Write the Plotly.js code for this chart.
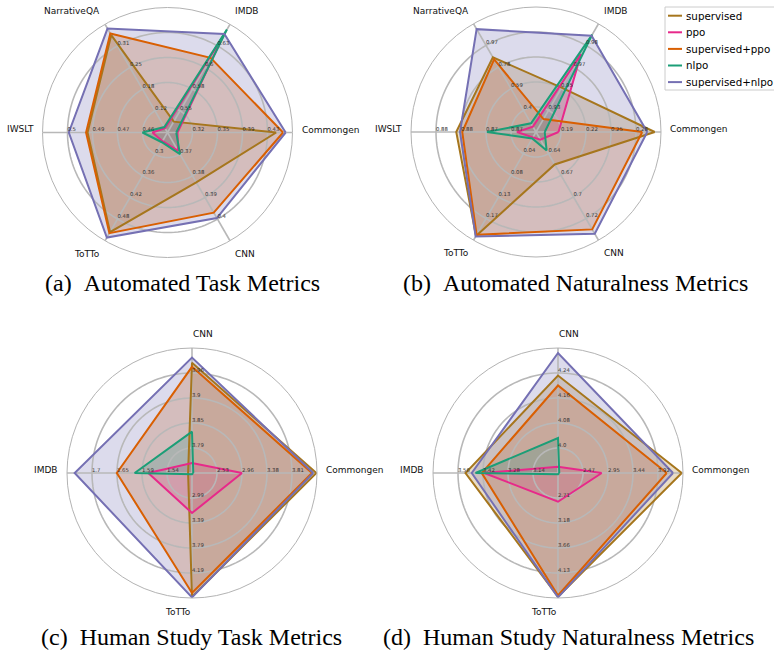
<!DOCTYPE html>
<html><head><meta charset="utf-8">
<script src="https://cdn.plot.ly/plotly-3.0.1.min.js"></script>
<style>html,body{margin:0;padding:0;background:#fff}#chart{width:774px;height:655px}</style>
</head><body><div id="chart"></div>
<script>
// ---------- data ----------
const seriesNames = ['supervised', 'ppo', 'supervised+ppo', 'nlpo', 'supervised+nlpo'];
const seriesColors = ['#a6761d', '#e7298a', '#d95f02', '#1b9e77', '#7570b3'];

// (a) Automated Task Metrics
const autoAxes = ['Commongen', 'IMDB', 'NarrativeQA', 'IWSLT', 'ToTTo', 'CNN'];
const autoTaskTicks = [
  ['0.32', '0.35', '0.39', '0.43'],
  ['0.55', '0.58', '0.6', '0.63'],
  ['0.12', '0.18', '0.25', '0.31'],
  ['0.46', '0.47', '0.49', '0.5'],
  ['0.3', '0.36', '0.42', '0.48'],
  ['0.37', '0.38', '0.39', '0.4']
];
const autoTaskSupervised    = [0.4428, 0.5367, 0.3417, 0.4893, 0.516, 0.383];
const autoTaskPpo           = [0.298, 0.6433, 0.0693, 0.4547, 0.264, 0.3685];
const autoTaskSupPpo        = [0.4529, 0.6153, 0.3464, 0.4901, 0.519, 0.397];
const autoTaskNlpo          = [0.2962, 0.65, 0.0725, 0.46, 0.267, 0.37];
const autoTaskSupNlpo       = [0.4566, 0.6447, 0.3607, 0.4993, 0.531, 0.3995];

// (b) Automated Naturalness Metrics
const autoNatTicks = [
  ['0.19', '0.22', '0.25', '0.28'],
  ['0.93', '0.95', '0.97', '0.98'],
  ['0.4', '0.59', '0.78', '0.97'],
  ['0.87', '0.87', '0.88', '0.88'],
  ['0.04', '0.08', '0.13', '0.17'],
  ['0.64', '0.67', '0.7', '0.72']
];
const autoNatSupervised = [0.3025, 0.9475, 0.8655, 0.8773, 0.2047, 0.6533];
const autoNatPpo        = [0.187, 0.9733, 0.2575, 0.8692, 0.0075, 0.6227];
const autoNatSupPpo     = [0.2875, 0.9233, 0.8465, 0.8765, 0.2025, 0.7333];
const autoNatNlpo       = [0.1705, 0.9883, 0.286, 0.8732, 0.0097, 0.636];
const autoNatSupNlpo    = [0.2935, 0.9875, 1.1125, 0.8768, 0.2058, 0.7387];

// (c) Human Study Task Metrics
const humanAxes = ['Commongen', 'CNN', 'IMDB', 'ToTTo'];
const humanTaskTicks = [
  ['2.53', '2.96', '3.38', '3.81'],
  ['3.79', '3.85', '3.9', '3.96'],
  ['1.54', '1.59', '1.65', '1.7'],
  ['2.99', '3.39', '3.79', '4.19']
];
const humanTaskSupervised = [4.226, 3.983, 1.495, 4.57];
const humanTaskPpo        = [2.957, 3.756, 1.58, 3.23];
const humanTaskSupPpo     = [4.151, 3.974, 1.647, 4.51];
const humanTaskNlpo       = [2.125, 3.827, 1.609, 2.61];
const humanTaskSupNlpo    = [4.173, 3.995, 1.737, 4.58];

// (d) Human Study Naturalness Metrics
const humanNatTicks = [
  ['2.47', '2.95', '3.44', '3.92'],
  ['4.0', '4.08', '4.16', '4.24'],
  ['3.14', '3.28', '3.42', '3.56'],
  ['2.71', '3.18', '3.66', '4.13']
];
const humanNatSupervised = [4.379, 4.232, 3.518, 4.58];
const humanNatPpo        = [2.8325, 3.94, 3.413, 2.781];
const humanNatSupPpo     = [4.089, 4.2, 3.427, 4.556];
const humanNatNlpo       = [2.011, 4.032, 3.462, 2.26];
const humanNatSupNlpo    = [4.21, 4.304, 3.483, 4.5915];

// ---------- drawing ----------
const W = 774, H = 655, RAD = 125, LABEL_D = 133;
const ringLevels = [0.2, 0.4, 0.6, 0.8];
const charts = [
  {axes: autoAxes, ticks: autoTaskTicks, series: [autoTaskSupervised, autoTaskPpo, autoTaskSupPpo, autoTaskNlpo, autoTaskSupNlpo],
   cx: 167.5, cy: 132.5, caption: '(a)\u2002Automated Task Metrics', capX: 182, capY: 283},
  {axes: autoAxes, ticks: autoNatTicks, series: [autoNatSupervised, autoNatPpo, autoNatSupPpo, autoNatNlpo, autoNatSupNlpo],
   cx: 536, cy: 132, caption: '(b)\u2002Automated Naturalness Metrics', capX: 575, capY: 283},
  {axes: humanAxes, ticks: humanTaskTicks, series: [humanTaskSupervised, humanTaskPpo, humanTaskSupPpo, humanTaskNlpo, humanTaskSupNlpo],
   cx: 192, cy: 473, caption: '(c)\u2002Human Study Task Metrics', capX: 191, capY: 637},
  {axes: humanAxes, ticks: humanNatTicks, series: [humanNatSupervised, humanNatPpo, humanNatSupPpo, humanNatNlpo, humanNatSupNlpo],
   cx: 558, cy: 473, caption: '(d)\u2002Human Study Naturalness Metrics', capX: 568, capY: 637}
];

function toFrac(v, tk) {
  const a = parseFloat(tk[0]), b = parseFloat(tk[3]);
  return 0.2 + 0.6 * (v - a) / (b - a);
}
function rgba(hex, al) {
  const n = parseInt(hex.slice(1), 16);
  return 'rgba(' + ((n >> 16) & 255) + ',' + ((n >> 8) & 255) + ',' + (n & 255) + ',' + al + ')';
}

const traces = [];
const layout = {
  width: W, height: H, margin: {l: 0, r: 0, t: 0, b: 0},
  paper_bgcolor: '#fff', showlegend: false, dragmode: false, hovermode: false,
  font: {family: 'DejaVu Sans', color: '#000'},
  annotations: [], shapes: []
};

const circleTheta = [];
for (let t = 0; t <= 360; t += 2) circleTheta.push(t);

charts.forEach((c, ci) => {
  const sp = ci === 0 ? 'polar' : 'polar' + (ci + 1);
  const n = c.axes.length;
  const ang = c.axes.map((_, i) => i * 360 / n);
  layout[sp] = {
    domain: {x: [(c.cx - RAD) / W, (c.cx + RAD) / W], y: [1 - (c.cy + RAD) / H, 1 - (c.cy - RAD) / H]},
    bgcolor: 'rgba(0,0,0,0)',
    radialaxis: {range: [0, 1], showgrid: false, showline: false, showticklabels: false, ticks: ''},
    angularaxis: {direction: 'counterclockwise', rotation: 0, thetaunit: 'degrees', tickmode: 'array',
                  tickvals: ang, showticklabels: false, showgrid: false, showline: true, linecolor: '#b3b3b3',
                  linewidth: 1, ticks: '', layer: 'above traces'}
  };
  const closed = (arr) => arr.concat([arr[0]]);
  const rs = c.series.map(vals => vals.map((v, i) => toFrac(v, c.ticks[i])));
  // fills
  rs.forEach((r, si) => {
    traces.push({type: 'scatterpolar', subplot: sp, r: closed(r), theta: closed(ang), mode: 'lines',
      fill: 'toself', fillcolor: rgba(seriesColors[si], 0.25), line: {color: 'rgba(0,0,0,0)', width: 0},
      hoverinfo: 'skip', showlegend: false});
  });
  // grid rings and spokes above fills
  ringLevels.forEach(lv => {
    traces.push({type: 'scatterpolar', subplot: sp, r: circleTheta.map(() => lv), theta: circleTheta, mode: 'lines',
      line: {color: '#b8b8b8', width: 1.6}, hoverinfo: 'skip', showlegend: false});
  });
  ang.forEach(a => {
    traces.push({type: 'scatterpolar', subplot: sp, r: [0, 1], theta: [a, a], mode: 'lines',
      line: {color: '#b8b8b8', width: 1.6}, hoverinfo: 'skip', showlegend: false});
  });
  // series lines
  rs.forEach((r, si) => {
    traces.push({type: 'scatterpolar', subplot: sp, r: closed(r), theta: closed(ang), mode: 'lines',
      name: seriesNames[si], line: {color: seriesColors[si], width: 2}, hoverinfo: 'skip', showlegend: false});
  });
  // per-spoke tick labels
  ang.forEach((a, i) => {
    traces.push({type: 'scatterpolar', subplot: sp, r: ringLevels, theta: ringLevels.map(() => a), mode: 'text',
      text: c.ticks[i], textposition: 'top right', textfont: {family: 'DejaVu Sans', size: 5.3, color: '#333'},
      hoverinfo: 'skip', showlegend: false, cliponaxis: false});
  });
  // category labels around the circle
  ang.forEach((a, i) => {
    const rad = a * Math.PI / 180;
    const cs = Math.cos(rad), sn = Math.sin(rad);
    const px = c.cx + LABEL_D * cs, py = c.cy - LABEL_D * sn;
    layout.annotations.push({xref: 'paper', yref: 'paper', x: px / W, y: 1 - py / H,
      xanchor: cs >= 0 ? 'left' : 'right', yanchor: sn > 0.01 ? 'bottom' : (sn < -0.01 ? 'top' : 'middle'),
      yshift: (Math.abs(sn) <= 0.01) ? 3 : 0, text: c.axes[i], showarrow: false,
      font: {family: 'DejaVu Sans', size: 9, color: '#111'}, borderpad: 0});
  });
  layout.annotations.push({xref: 'paper', yref: 'paper', x: c.capX / W, y: 1 - c.capY / H, xanchor: 'center', yanchor: 'middle',
    text: c.caption, showarrow: false, font: {family: 'Liberation Serif', size: 24, color: '#000'}});
});

// legend box (drawn like the reference's, top right)
const legX0 = 665, legY0 = 7, legY1 = 90, legRow0 = 15.7, legStep = 16.6;
layout.shapes.push({type: 'rect', xref: 'paper', yref: 'paper', x0: legX0 / W, x1: 800 / W, y0: 1 - legY1 / H, y1: 1 - legY0 / H,
  line: {color: '#cccccc', width: 1}, fillcolor: 'rgba(255,255,255,0.85)'});
seriesNames.forEach((nm, si) => {
  const yc = legRow0 + si * legStep;
  layout.shapes.push({type: 'line', xref: 'paper', yref: 'paper', x0: 668 / W, x1: 682 / W, y0: 1 - yc / H, y1: 1 - yc / H,
    line: {color: seriesColors[si], width: 2}});
  layout.annotations.push({xref: 'paper', yref: 'paper', x: 685 / W, y: 1 - yc / H, xanchor: 'left', yanchor: 'middle',
    text: nm, showarrow: false, borderpad: 0, font: {family: 'DejaVu Sans', size: 10.3, color: '#000'}});
});

Plotly.newPlot('chart', traces, layout, {staticPlot: true, displayModeBar: false});
</script>
</body></html>
